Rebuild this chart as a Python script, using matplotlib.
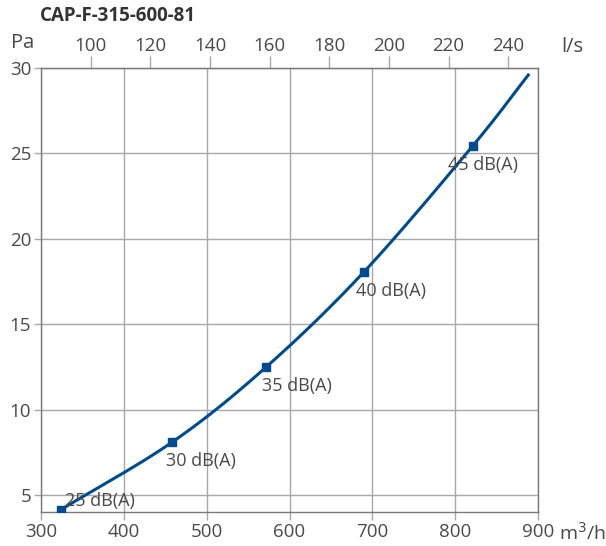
import numpy as np
import matplotlib
matplotlib.use("Agg")
import matplotlib.pyplot as plt

plt.rcParams['font.family'] = ['Open Sans', 'DejaVu Sans']

title = "CAP-F-315-600-81"
# marker points (flow m3/h, pressure Pa) and sound labels
flow_pts = [323.8, 458.6, 571.4, 690.1, 821.4]
pres_pts = [4.13, 8.10, 12.47, 18.07, 25.45]
labels = ["25 dB(A)", "30 dB(A)", "35 dB(A)", "40 dB(A)", "45 dB(A)"]
# curve end point
flow_end = 889.4
pres_end = 29.66

x_ticks = [300, 400, 500, 600, 700, 800, 900]
y_ticks = [5, 10, 15, 20, 25, 30]
top_ticks = [100, 120, 140, 160, 180, 200, 220, 240]

blue = "#004b8d"
txt = "#4a4a4a"
grid_c = "#a8a8a8"
spine_c = "#7a7a7a"

fig = plt.figure(figsize=(6.06, 5.46), dpi=100)
ax = fig.add_axes([41/606, 1-512/546, (538-41)/606, (512-68)/546])

# smooth curve (Catmull-Rom rendering through the read points)
cx = np.array(flow_pts + [flow_end])
cy = np.array(pres_pts + [pres_end])
P = np.column_stack([cx, cy])
P_ext = np.vstack([2*P[0]-P[1], P, 2*P[-1]-P[-2]])
seg = []
for i in range(1, len(P_ext)-2):
    p0, p1, p2, p3 = P_ext[i-1], P_ext[i], P_ext[i+1], P_ext[i+2]
    t = np.linspace(0, 1, 40)[:, None]
    c = 0.5*((2*p1) + (-p0+p2)*t + (2*p0-5*p1+4*p2-p3)*t**2 + (-p0+3*p1-3*p2+p3)*t**3)
    seg.append(c)
curve = np.vstack(seg)
ax.plot(curve[:, 0], curve[:, 1], color=blue, lw=2.2, zorder=3, solid_capstyle='butt')
ax.plot(flow_pts, pres_pts, 's', color=blue, ms=5.5, zorder=4)

# (dx, dy) in pixels; positive dy = label above marker (baseline), negative = below (top)
offsets = [(4, 4), (-6, -10), (-4, -10), (-8, -10), (-25, -10)]
for x, y, lab, (dx, dy) in zip(flow_pts, pres_pts, labels, offsets):
    ax.annotate(lab, (x, y), xytext=(dx, dy), textcoords='offset pixels',
                ha='left', va='baseline' if dy > 0 else 'top', fontsize=13, color=txt, zorder=5)

ax.set_xlim(300, 900)
ax.set_ylim(4, 30)
ax.set_xticks(x_ticks)
ax.set_yticks(y_ticks)
ax.set_xticklabels([str(v) for v in x_ticks])
ax.set_yticklabels([str(v) for v in y_ticks])
ax.grid(True, color=grid_c, lw=1.0)
ax.set_axisbelow(True)
for s in ax.spines.values():
    s.set_color(spine_c)
    s.set_linewidth(1.0)
ax.tick_params(axis='both', direction='out', width=1.0, color=grid_c,
               labelsize=13.5, labelcolor=txt)
ax.tick_params(axis='x', length=6, pad=2)
ax.tick_params(axis='y', length=5, pad=2)

sec = ax.secondary_xaxis('top', functions=(lambda q: q/3.6, lambda l: l*3.6))
sec.set_xticks(top_ticks)
sec.set_xticklabels([str(v) for v in top_ticks])
sec.tick_params(direction='out', length=8.5, width=1.0, color=grid_c,
                labelsize=13.5, labelcolor=txt, pad=1)
sec.spines['top'].set_color(spine_c)

fig.text(11/606, 1-43/546, "Pa", fontsize=14.5, color=txt, ha='left', va='center')
fig.text(561/606, 1-47/546, "l/s", fontsize=14.5, color=txt, ha='left', va='center')
fig.text(559/606, 1-533/546, "m$^3$/h", fontsize=14, color=txt, ha='left', va='center')
fig.text(40/606, 1-16/546, title, fontsize=13.5, fontweight='bold', color="#333333",
         ha='left', va='center')

fig.savefig("out.png", dpi=100)
